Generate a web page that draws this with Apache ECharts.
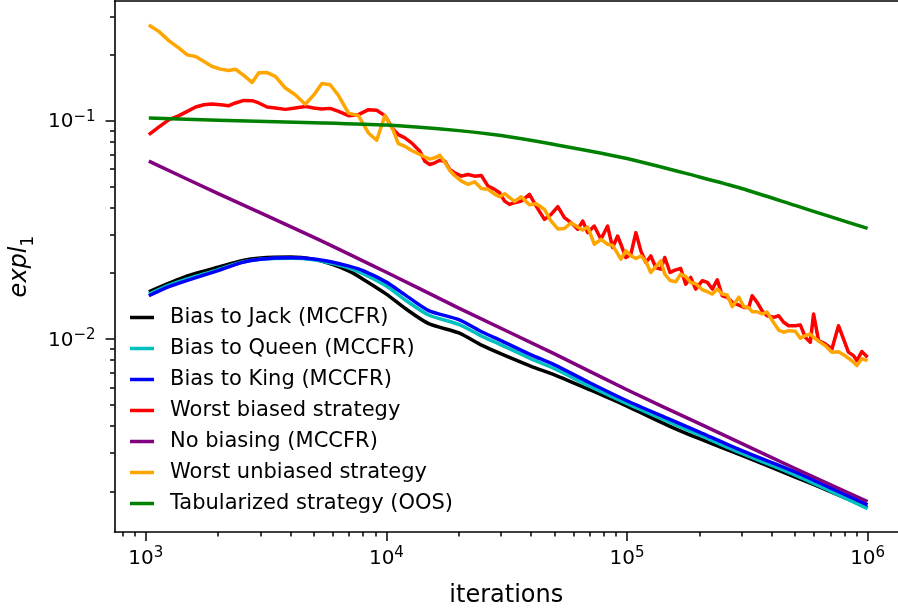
<!DOCTYPE html>
<html><head><meta charset="utf-8">
<script src="https://cdn.jsdelivr.net/npm/echarts@6/dist/echarts.min.js"></script>
<style>html,body{margin:0;padding:0;background:#fff}#c{width:898px;height:613px}</style>
</head><body><div id="c"></div>
<script>
// ---- data (iterations vs expl_1) ----
const seriesNames = ['Bias to Jack (MCCFR)', 'Bias to Queen (MCCFR)', 'Bias to King (MCCFR)',
  'Worst biased strategy', 'No biasing (MCCFR)', 'Worst unbiased strategy', 'Tabularized strategy (OOS)'];

const iterSmooth = [1030, 1250, 1500, 2000, 2500, 3000, 4000, 5000, 6000, 7000, 8000, 10000, 12000, 15000,
  20000, 25000, 30000, 40000, 50000, 70000, 100000, 150000, 200000, 300000, 500000, 700000, 1000000];
const biasJack = [0.01645, 0.01802, 0.01950, 0.02132, 0.02283, 0.02351, 0.02373, 0.02314, 0.02189, 0.02044,
  0.01879, 0.01605, 0.01378, 0.01175, 0.01065, 0.00934, 0.00854, 0.00749, 0.00685, 0.00585, 0.00492,
  0.00399, 0.00349, 0.00293, 0.00233, 0.00200, 0.00169];
const biasQueen = [0.01605, 0.01765, 0.01889, 0.02077, 0.02247, 0.02319, 0.02344, 0.02307, 0.02212, 0.02110,
  0.01991, 0.01746, 0.01507, 0.01287, 0.01165, 0.01027, 0.00939, 0.00811, 0.00730, 0.00607, 0.00505,
  0.00416, 0.00363, 0.00299, 0.00238, 0.00201, 0.00167];
const biasKing = [0.01577, 0.01737, 0.01860, 0.02055, 0.02236, 0.02319, 0.02353, 0.02324, 0.02247, 0.02154,
  0.02055, 0.01821, 0.01588, 0.01349, 0.01225, 0.01076, 0.00982, 0.00845, 0.00761, 0.00630, 0.00521,
  0.00429, 0.00374, 0.00308, 0.00246, 0.00208, 0.00174];

const iterPurple = [1030, 2000, 5000, 10000, 20000, 50000, 100000, 200000, 500000, 1000000];
const noBiasing = [0.0652, 0.0463, 0.0292, 0.0202, 0.01385, 0.00854, 0.00585, 0.00409, 0.00255, 0.00180];

const iterGreen = [1030, 2000, 5000, 10000, 20000, 30000, 50000, 100000, 200000, 300000, 500000, 700000, 1000000];
const tabularized = [0.1029, 0.1005, 0.0979, 0.0954, 0.0900, 0.0854, 0.0777, 0.0671, 0.0552, 0.0489, 0.0409, 0.0363, 0.0321];

const iterNoisy = [1030, 1136, 1250, 1375, 1488, 1612, 1746, 1889, 2045, 2215,
  2360, 2556, 2767, 2950, 3193, 3456, 3802, 4182, 4600, 4985,
  5396, 5839, 6327, 6960, 7656, 8422, 9117, 9867, 10690, 11210,
  11940, 12730, 13780, 14450, 15160, 15900, 16680, 17490, 18340, 19240,
  20510, 21860, 23280, 24810, 26460, 28180, 29550, 31000, 32510, 34100,
  36350, 39340, 41940, 45390, 48390, 51590, 54940, 58570, 62430, 65480,
  68670, 73130, 77950, 83090, 87150, 91430, 94350, 98950, 103800, 108900,
  114200, 119800, 125600, 131800, 138200, 143600, 151000, 159400, 167200, 175400,
  184000, 193000, 205700, 215800, 226300, 237300, 248900, 261100, 273800, 291600,
  305900, 320800, 331400, 347500, 364500, 382300, 407100, 427000, 447900, 469800,
  500800, 525300, 551000, 577900, 596400, 625500, 666600, 710800, 757000, 793900,
  832600, 873300, 902100, 946100, 1000000];
const worstBiased = [0.08631, 0.09359, 0.1011, 0.1054, 0.1103, 0.1155, 0.1183, 0.1192, 0.1183, 0.1171,
  0.1205, 0.1238, 0.1234, 0.1205, 0.1155, 0.1143, 0.1126, 0.1143, 0.1162, 0.1143,
  0.1131, 0.1138, 0.1103, 0.1054, 0.1065, 0.1123, 0.1115, 0.1054, 0.09098, 0.08631,
  0.08337, 0.07910, 0.07243, 0.06518, 0.06296, 0.06410, 0.06587, 0.06518, 0.05974, 0.05770,
  0.05568, 0.05668, 0.05568, 0.05609, 0.05012, 0.04841, 0.04676, 0.04280, 0.04134, 0.04208,
  0.04280, 0.04593, 0.04061, 0.03531, 0.03721, 0.04035, 0.03595, 0.03410, 0.03178, 0.03468,
  0.03070, 0.03290, 0.02860, 0.03290, 0.02622, 0.02962, 0.02715, 0.02360, 0.02443, 0.03070,
  0.02533, 0.02240, 0.02400, 0.02125, 0.02087, 0.02360, 0.02016, 0.02072, 0.02103, 0.01783,
  0.01913, 0.01692, 0.01848, 0.01816, 0.01692, 0.01867, 0.01577, 0.01551, 0.01471, 0.01430,
  0.01395, 0.01395, 0.01577, 0.01471, 0.01346, 0.01277, 0.01256, 0.01277, 0.01192, 0.01150,
  0.01150, 0.01159, 0.01018, 0.00966, 0.01301, 0.00982, 0.00949, 0.00900, 0.01150, 0.01000,
  0.00870, 0.00839, 0.00796, 0.00875, 0.00825];
const worstUnbiased = [0.2744, 0.2557, 0.2320, 0.2147, 0.2001, 0.1966, 0.1866, 0.1770, 0.1722, 0.1697,
  0.1719, 0.1612, 0.1496, 0.1657, 0.1660, 0.1594, 0.1411, 0.1314, 0.1189, 0.1308,
  0.1479, 0.1460, 0.1303, 0.1083, 0.1054, 0.08778, 0.08131, 0.1054, 0.09001, 0.07852,
  0.07631, 0.07296, 0.06995, 0.06813, 0.06664, 0.06756, 0.06936, 0.06450, 0.05924, 0.05591,
  0.05283, 0.05103, 0.05244, 0.04887, 0.04846, 0.04607, 0.04483, 0.04627, 0.04441, 0.04262,
  0.04483, 0.04117, 0.04161, 0.03923, 0.03468, 0.03192, 0.03206, 0.03406, 0.03257, 0.03156,
  0.03257, 0.02715, 0.02858, 0.02715, 0.02682, 0.02457, 0.02319, 0.02533, 0.02403, 0.02334,
  0.02400, 0.02264, 0.02016, 0.02143, 0.02278, 0.01981, 0.01852, 0.01829, 0.01981, 0.01929,
  0.01814, 0.01790, 0.01680, 0.01645, 0.01605, 0.01692, 0.01605, 0.01588, 0.01404, 0.01553,
  0.01403, 0.01391, 0.01332, 0.01332, 0.01301, 0.01328, 0.01186, 0.01098, 0.01073, 0.01091,
  0.01084, 0.01008, 0.01035, 0.01054, 0.01018, 0.00977, 0.00932, 0.00870, 0.00873, 0.00847,
  0.00816, 0.00783, 0.00755, 0.00811, 0.00796];

// ticks
const xMajorTicks = [1e3, 1e4, 1e5, 1e6];
const xMajorExp = ['3', '4', '5', '6'];
const xMinorTicks = [800, 900, 2000, 3000, 4000, 5000, 6000, 7000, 8000, 9000,
  20000, 30000, 40000, 50000, 60000, 70000, 80000, 90000,
  200000, 300000, 400000, 500000, 600000, 700000, 800000, 900000];
const yMajorTicks = [0.01, 0.1];
const yMajorExp = ['\u22122', '\u22121'];
const yMinorTicks = [0.002, 0.003, 0.004, 0.005, 0.006, 0.007, 0.008, 0.009,
  0.02, 0.03, 0.04, 0.05, 0.06, 0.07, 0.08, 0.09, 0.2, 0.3];

const xRange = [741.9, 1.3378e6];
const yRange = [0.001305, 0.3532];

// ---- chart ----
const F = 'DejaVu Sans';
const colors = ['#000000', '#00bfbf', '#0000ff', '#ff0000', '#800080', '#ffa500', '#008000'];
function pairs(xs, ys) { return xs.map((x, i) => [x, ys[i]]); }
function sciFormatter(ticks, exps) {
  return function (v) {
    let idx = 0, best = Infinity;
    ticks.forEach((t, i) => { const d = Math.abs(Math.log10(v) - Math.log10(t)); if (d < best) { best = d; idx = i; } });
    return '{s|\u200a}{b|10}{e|' + exps[idx] + '}';
  };
}
const sciRich = {
  s: { fontSize: 1, lineHeight: 23, verticalAlign: 'middle' },
  b: { fontSize: 20, fontFamily: F, color: '#000', lineHeight: 20, verticalAlign: 'bottom' },
  e: { fontSize: 15, fontFamily: F, color: '#000', lineHeight: 15, verticalAlign: 'top' }
};
const tickStyle = { color: '#000', width: 1.5 };
const spine = { show: true, onZero: false, lineStyle: { color: '#000', width: 1.6 } };

const dataSets = [
  pairs(iterSmooth, biasJack), pairs(iterSmooth, biasQueen), pairs(iterSmooth, biasKing),
  pairs(iterNoisy, worstBiased), pairs(iterPurple, noBiasing), pairs(iterNoisy, worstUnbiased),
  pairs(iterGreen, tabularized)
];
const smoothFlags = [true, true, true, false, true, false, true];

const option = {
  animation: false,
  backgroundColor: '#fff',
  grid: { left: 112, right: 0, top: 1, bottom: 79.3, show: false },
  legend: {
    orient: 'vertical', left: 130, top: 307, padding: 0, itemGap: 10,
    itemWidth: 24, itemHeight: 3.5, icon: 'rect',
    textStyle: { fontSize: 21, fontFamily: F, color: '#000', padding: [0, 0, 0, 11] },
    data: seriesNames
  },
  xAxis: [
    {
      type: 'log', logBase: 10, min: xRange[0], max: xRange[1], position: 'bottom',
      axisLine: spine,
      axisTick: { show: true, length: 9, lineStyle: tickStyle, customValues: xMajorTicks },
      axisLabel: { show: true, margin: 14, customValues: xMajorTicks, formatter: sciFormatter(xMajorTicks, xMajorExp), rich: sciRich },
      splitLine: { show: false },
      name: 'iterations', nameLocation: 'middle', nameGap: 52,
      nameTextStyle: { fontSize: 24, fontFamily: F, color: '#000' }
    },
    {
      type: 'log', logBase: 10, min: xRange[0], max: xRange[1], position: 'bottom',
      axisLine: { show: false, onZero: false },
      axisTick: { show: true, length: 4.5, lineStyle: tickStyle, customValues: xMinorTicks },
      axisLabel: { show: false },
      splitLine: { show: false }
    },
    {
      type: 'log', logBase: 10, min: xRange[0], max: xRange[1], position: 'top',
      axisLine: spine, axisTick: { show: false }, axisLabel: { show: false }, splitLine: { show: false }
    }
  ],
  yAxis: [
    {
      type: 'log', logBase: 10, min: yRange[0], max: yRange[1], position: 'left',
      axisLine: spine,
      axisTick: { show: true, length: 9, lineStyle: tickStyle, customValues: yMajorTicks },
      axisLabel: { show: true, margin: 19, customValues: yMajorTicks, formatter: sciFormatter(yMajorTicks, yMajorExp), rich: sciRich },
      splitLine: { show: false },
      name: '{a|expl}{t|\u200a}{n|1}', nameLocation: 'middle', nameGap: 65, nameRotate: 90,
      nameTextStyle: {
        rich: {
          a: { fontSize: 24, fontFamily: F, fontStyle: 'italic', color: '#000', lineHeight: 24, verticalAlign: 'top' },
          t: { fontSize: 1, lineHeight: 29, verticalAlign: 'middle' },
          n: { fontSize: 17, fontFamily: F, color: '#000', lineHeight: 17, verticalAlign: 'bottom' }
        }
      }
    },
    {
      type: 'log', logBase: 10, min: yRange[0], max: yRange[1], position: 'left',
      axisLine: { show: false, onZero: false },
      axisTick: { show: true, length: 4.5, lineStyle: tickStyle, customValues: yMinorTicks },
      axisLabel: { show: false },
      splitLine: { show: false }
    }
  ],
  series: seriesNames.map((name, i) => ({
    name: name, type: 'line', xAxisIndex: 0, yAxisIndex: 0,
    data: dataSets[i], showSymbol: false, symbol: 'none',
    smooth: smoothFlags[i] ? 0.25 : false,
    lineStyle: { width: 3.5, color: colors[i], join: 'round' }, itemStyle: { color: colors[i] },
    emphasis: { disabled: true }
  }))
};
const chart = echarts.init(document.getElementById('c'), null, { renderer: 'canvas' });
chart.setOption(option);
</script>
</body></html>
